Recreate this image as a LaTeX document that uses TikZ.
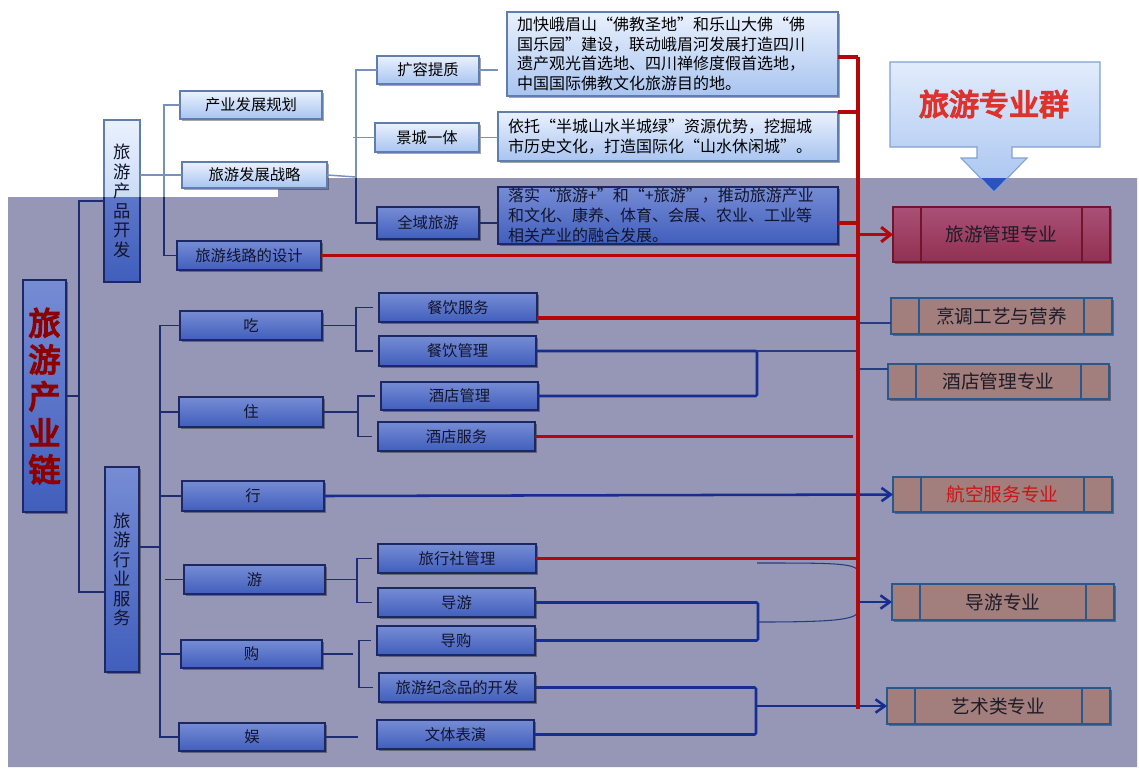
\documentclass[tikz,border=0pt]{standalone}
\usepackage{fontspec}
\newfontfamily\cjk{Noto Sans CJK SC}
\usetikzlibrary{arrows.meta,shadows,calc}
\definecolor{ovl}{RGB}{150,151,182}
\definecolor{ltop}{RGB}{234,241,253}
\definecolor{lbot}{RGB}{168,196,240}
\definecolor{lbord}{RGB}{95,125,175}
\definecolor{dtop}{RGB}{118,140,212}
\definecolor{dbot}{RGB}{64,94,188}
\definecolor{dbord}{RGB}{28,40,100}
\definecolor{dtext}{RGB}{18,20,45}
\definecolor{rfill}{RGB}{162,126,124}
\definecolor{rbord}{RGB}{40,88,140}
\definecolor{rtext}{RGB}{30,28,40}
\definecolor{gtop}{RGB}{170,80,118}
\definecolor{gbot}{RGB}{145,48,82}
\definecolor{gbord}{RGB}{115,20,45}
\definecolor{redc}{RGB}{180,8,8}
\definecolor{navc}{RGB}{22,45,145}
\definecolor{lconc}{RGB}{120,145,185}
\definecolor{dconc}{RGB}{30,45,112}
\definecolor{thinc}{RGB}{40,60,130}
\definecolor{chainred}{RGB}{140,0,0}
\definecolor{zyqred}{RGB}{222,50,45}
\definecolor{hkred}{RGB}{205,20,20}
\definecolor{ctop}{RGB}{226,236,252}
\definecolor{cbot}{RGB}{168,196,240}
\definecolor{cbord}{RGB}{130,160,210}
\definecolor{cdtop}{RGB}{70,110,215}
\definecolor{cdbot}{RGB}{40,80,190}
\newcommand\heavy[1]{\special{pdf:literal direct 2 Tr 1.1 w}#1\special{pdf:literal direct 0 Tr}}
\newcommand\mybox[7]{%
  \pgfmathsetmacro\myboxw{(#4-#2)*0.75}%
  \pgfmathsetmacro\myboxh{(#5-#3)*0.75}%
  \node[#6, minimum width=\myboxw pt, minimum height=\myboxh pt] (#1) at ({(#2+#4)/2},{(#3+#5)/2}) {#7};}
\tikzset{
  shad/.style={drop shadow={shadow xshift=1.2pt, shadow yshift=-1.5pt, opacity=0.35, fill=black}},
  basebox/.style={rectangle, inner sep=0pt, outer sep=0pt, font=\cjk\fontsize{11.5}{14}\selectfont},
  lbox/.style={basebox, draw=lbord, line width=0.8pt, top color=ltop, bottom color=lbot, text=black, shad},
  dbox/.style={basebox, draw=dbord, line width=0.9pt, top color=dtop, bottom color=dbot, text=dtext, shad},
  tfont/.style={align=left, font=\cjk\fontsize{12}{14.6}\selectfont},
  vfont/.style={align=center, font=\cjk\fontsize{13}{14.6}\selectfont},
  strips/.style={path picture={\draw[line width=0.9pt, #1]
     ([xshift=21pt]path picture bounding box.north west) -- ([xshift=21pt]path picture bounding box.south west)
     ([xshift=-21pt]path picture bounding box.north east) -- ([xshift=-21pt]path picture bounding box.south east);}},
  rbox/.style={rectangle, inner sep=0pt, outer sep=0pt, draw=rbord, line width=0.9pt, fill=rfill, text=rtext,
     font=\cjk\fontsize{14}{16}\selectfont, shad, strips=rbord},
  gbox/.style={rectangle, inner sep=0pt, outer sep=0pt, draw=gbord, line width=0.9pt, top color=gtop, bottom color=gbot,
     text=rtext, font=\cjk\fontsize{14}{16}\selectfont, shad, strips=gbord},
  redline/.style={draw=redc, line width=2.3pt},
  redarrow/.style={draw=redc, line width=2.3pt, -{Straight Barb[length=7pt,width=11pt]}},
  navline/.style={draw=navc, line width=1.9pt, rounded corners=1pt},
  navarrow/.style={draw=navc, line width=1.9pt, -{Straight Barb[length=7pt,width=10pt]}},
  lconline/.style={draw=lconc, line width=1.1pt},
  dconline/.style={draw=dconc, line width=1.1pt},
  thinline/.style={draw=thinc, line width=0.8pt},
  gap/.style={shorten <=4.5pt, shorten >=4.5pt}
}
\begin{document}
\begin{tikzpicture}[x=0.75pt,y=-0.75pt]
\path[use as bounding box, fill=white] (0,0) rectangle (1139,776);
\fill[ovl] (8,197) -- (278,197) -- (278,178) -- (1137,178) -- (1137,767) -- (8,767) -- cycle;

% parts drawn in the white region
\begin{scope}
\clip (0,0) -- (1139,0) -- (1139,178) -- (278,178) -- (278,197) -- (0,197) -- cycle;
\shadedraw[top color=ltop, bottom color=lbot, draw=lbord, line width=0.8pt] (104,120) rectangle (140,282);
\shadedraw[top color=ctop, bottom color=cbot, draw=cbord, line width=0.8pt]
  (890,62) -- (1100,62) -- (1100,147) -- (1012,147) -- (1012,158) -- (1027,158) -- (994,192)
  -- (961,158) -- (977,158) -- (977,147) -- (890,147) -- cycle;
\end{scope}
% parts drawn in the shaded region
\begin{scope}
\clip (8,197) -- (278,197) -- (278,178) -- (1137,178) -- (1137,767) -- (8,767) -- cycle;
\shadedraw[top color=dtop, bottom color=dbot, draw=dbord, line width=0.9pt] (104,120) rectangle (140,282);
\shadedraw[top color=cdtop, bottom color=cdbot, draw=cbord, line width=0.8pt]
  (890,62) -- (1100,62) -- (1100,147) -- (1012,147) -- (1012,158) -- (1027,158) -- (994,192)
  -- (961,158) -- (977,158) -- (977,147) -- (890,147) -- cycle;
\end{scope}
\node[font=\cjk\fontsize{22.5}{24}\selectfont, text=zyqred] (zyq) at (994,104) {\heavy{旅游专业群}};

% left column
\mybox{chain}{23}{280}{66}{512}{dbox, align=center, text=chainred, font=\cjk\fontsize{24}{27.5}\selectfont}{\heavy{旅}\\\heavy{游}\\\heavy{产}\\\heavy{业}\\\heavy{链}}
\mybox{cpkf}{104}{120}{140}{282}{basebox, vfont, text=dtext}{旅\\游\\产\\品\\开\\发}
\mybox{hyfw}{105}{467}{139}{672}{dbox, vfont}{旅\\游\\行\\业\\服\\务}

% product development branch
\mybox{cyfz}{180}{91}{322}{119}{lbox}{产业发展规划}
\mybox{zl}{182}{162}{327}{188}{lbox}{旅游发展战略}
\mybox{xlsj}{177}{241}{321}{270}{dbox}{旅游线路的设计}
\mybox{krtz}{377}{56}{479}{84}{lbox}{扩容提质}
\mybox{jcyt}{375}{123}{479}{152}{lbox}{景城一体}
\mybox{qyly}{377}{207}{479}{239}{dbox}{全域旅游}
\mybox{t1}{507}{12}{838}{96}{lbox, tfont, text width=233pt}{加快峨眉山“佛教圣地”和乐山大佛“佛\\国乐园”建设，联动峨眉河发展打造四川\\遗产观光首选地、四川禅修度假首选地，\\中国国际佛教文化旅游目的地。}
\mybox{t2}{498}{112}{838}{161}{lbox, tfont, text width=240pt}{依托“半城山水半城绿”资源优势，挖掘城\\市历史文化，打造国际化“山水休闲城”。}
\mybox{t3}{498}{187}{838}{244}{dbox, tfont, text width=240pt, font=\cjk\fontsize{12}{14.8}\selectfont}{落实“旅游+”和“+旅游”，推动旅游产业\\和文化、康养、体育、会展、农业、工业等\\相关产业的融合发展。}

% service branch
\mybox{chi}{180}{311}{322}{340}{dbox}{吃}
\mybox{zhu}{179}{397}{323}{427}{dbox}{住}
\mybox{xing}{182}{481}{324}{511}{dbox}{行}
\mybox{you}{184}{565}{325}{594}{dbox}{游}
\mybox{gou}{181}{640}{322}{668}{dbox}{购}
\mybox{yu}{179}{723}{325}{751}{dbox}{娱}
\mybox{cyfw}{379}{293}{537}{322}{dbox}{餐饮服务}
\mybox{cygl}{379}{336}{536}{366}{dbox}{餐饮管理}
\mybox{jdgl}{381}{382}{538}{410}{dbox}{酒店管理}
\mybox{jdfw}{378}{422}{535}{451}{dbox}{酒店服务}
\mybox{lxs}{378}{544}{536}{573}{dbox}{旅行社管理}
\mybox{dy}{378}{588}{535}{617}{dbox}{导游}
\mybox{dg}{377}{626}{535}{655}{dbox}{导购}
\mybox{jnp}{379}{673}{535}{702}{dbox}{旅游纪念品的开发}
\mybox{wtby}{377}{720}{534}{749}{dbox}{文体表演}

% majors
\mybox{glz}{893}{207}{1110}{262}{gbox}{旅游管理专业}
\mybox{pr}{891}{298}{1112}{334}{rbox}{烹调工艺与营养}
\mybox{jd}{888}{364}{1109}{399}{rbox}{酒店管理专业}
\mybox{hk}{893}{477}{1112}{512}{rbox, text=hkred}{航空服务专业}
\mybox{dyz}{892}{584}{1114}{620}{rbox}{导游专业}
\mybox{ys}{887}{688}{1110}{724}{rbox}{艺术类专业}

% brackets crossing the region border
\begin{scope}
\clip (0,0) -- (1139,0) -- (1139,178) -- (278,178) -- (278,197) -- (0,197) -- cycle;
\draw[lconline] (cyfz.west) -| (164,180) |- (xlsj.west);
\draw[lconline] (krtz.west) -| (356,150) |- (qyly.west);
\end{scope}
\begin{scope}
\clip (8,197) -- (278,197) -- (278,178) -- (1137,178) -- (1137,767) -- (8,767) -- cycle;
\draw[dconline] (cyfz.west) -| (164,180) |- (xlsj.west);
\draw[dconline] (krtz.west) -| (356,150) |- (qyly.west);
\end{scope}

% light connectors
\draw[lconline] (cpkf.east |- zl.west) -- (zl.west);
\draw[lconline] (zl.east) -- (356,177);
\draw[lconline] (krtz.east) -- ++(19,0);
\draw[lconline] (jcyt.east) -- (t2.west |- jcyt.east);
\draw[lconline] (jcyt.west) -- ++(-22,0);

% dark connectors
\draw[dconline] (qyly.east) -- (t3.west |- qyly.east);
\draw[dconline] (chain.east) -- (79,396);
\draw[dconline] (cpkf.west) -| (79,400) |- (hyfw.west |- 0,592);
\draw[dconline] (hyfw.east |- 0,547) -- (160,547);
\draw[dconline] (chi.west) -| (160,500) |- (yu.west);
\draw[dconline] (zhu.west) -- (zhu.west -| 160,0);
\draw[dconline] (xing.west) -- (xing.west -| 160,0);
\draw[dconline] (you.west) -- (you.west -| 165,0);
\draw[dconline] (gou.west) -- (gou.west -| 160,0);
\draw[dconline] (chi.east) -- (chi.east -| 356,0);
\draw[dconline, gap] (cyfw.west) -| (356,330) |- (cygl.west);
\draw[dconline] (zhu.east) -- (zhu.east -| 358,0);
\draw[dconline, gap] (jdgl.west) -| (358,415) |- (jdfw.west);
\draw[dconline] (you.east) -- (you.east -| 357,0);
\draw[dconline, gap] (lxs.west) -| (357,580) |- (dy.west);
\draw[dconline] (gou.east) -- ++(31,0);
\draw[dconline, gap] (dg.west) -| (359,660) |- (jnp.west);
\draw[dconline] (yu.east) -- ++(33,0);

% navy links to the majors
\coordinate (rtop) at (858,57);
\coordinate (rbot) at (858,709);
\draw[navline] (cygl.east) -| (757,370) |- (jdgl.east);
\draw[thinline] (cygl.east -| 757,0) -- (cygl.east -| rtop);
\draw[thinline] (rtop |- 0,323) -- (pr.west |- 0,323);
\draw[thinline] (rtop |- 0,369) -- (jd.west |- 0,369);
\draw[navline] (dy.east) -| (758,620) |- (dg.east);
\draw[thinline] (757,563) .. controls (830,563) and (852,563) .. (858,570);
\draw[thinline] (758,622) .. controls (830,622) and (852,620) .. (858,613);
\draw[navarrow] (rtop |- dyz.west) -- (dyz.west);
\draw[navline] (jnp.east) -| (756,710) |- (wtby.east);
\draw[navarrow] (ys.west -| 756,0) -- (ys.west);
\draw[navarrow] (xing.east) -- (hk.west);

% red links
\draw[redline] (rtop) -- (rbot);
\draw[redline] (t1.east |- rtop) -- (rtop);
\draw[redline] (t2.north east) -- (rtop |- t2.north east);
\draw[redline] (t3.east |- 0,223) -- (rtop |- 0,223);
\draw[redline] (xlsj.east) -- (rtop |- xlsj.east);
\draw[redarrow] (rtop |- glz.west) -- (glz.west);
\draw[redline] (cyfw.east |- 0,318) -- (rtop |- 0,318);
\draw[redline] (jdfw.east) -- ++(318,0);
\draw[redline] (lxs.east) -- (rtop |- lxs.east);
\end{tikzpicture}
\end{document}
